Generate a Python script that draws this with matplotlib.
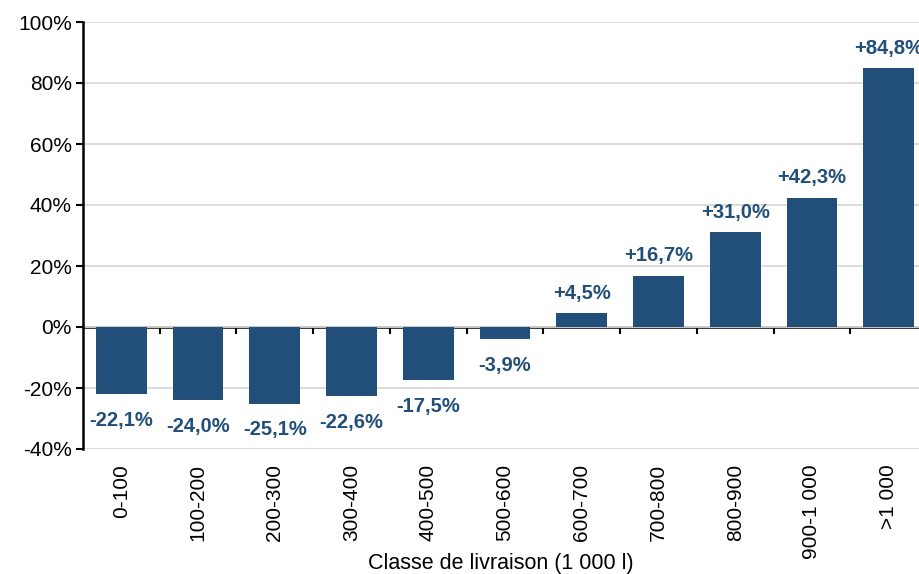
import matplotlib
matplotlib.use("Agg")
import matplotlib.pyplot as plt
import numpy as np
from matplotlib.ticker import FuncFormatter

plt.rcParams['font.family'] = ['Liberation Sans', 'DejaVu Sans']

# data
classes = ["0-100", "100-200", "200-300", "300-400", "400-500", "500-600",
           "600-700", "700-800", "800-900", "900-1 000", ">1 000"]
variation = [-22.1, -24.0, -25.1, -22.6, -17.5, -3.9, 4.5, 16.7, 31.0, 42.3, 84.8]

bar_color = "#214F79"

fig = plt.figure(figsize=(9.19, 5.74), dpi=100)
# plot area runs a little past the right edge of the image, as in the source
ax = fig.add_axes([83 / 919, 1 - 449 / 574, (927 - 83) / 919, (449 - 22) / 574])

x = np.arange(len(classes))
ax.bar(x, variation, width=0.66, color=bar_color, zorder=3)

for xi, v in zip(x, variation):
    txt = ("+" if v > 0 else "") + f"{v:.1f}".replace(".", ",") + "%"
    off = 14.5 if v > 0 else -19
    ax.annotate(txt, (xi, v), xytext=(0, off), textcoords="offset points",
                ha="center", va="center", fontsize=14.5, fontweight="bold",
                color=bar_color, annotation_clip=False)

ax.set_xlim(-0.5, len(classes) - 0.5)
ax.set_ylim(-40, 100)
ax.set_yticks(np.arange(-40, 101, 20))
ax.yaxis.set_major_formatter(FuncFormatter(lambda v, p: f"{v:.0f}%"))
ax.grid(axis="y", color="#D9D9D9", lw=1.3, zorder=0)
ax.tick_params(axis="y", labelsize=15, length=5, width=1.5, direction="out", pad=3)

ax.set_xticks(x)
ax.set_xticklabels(classes, rotation=90, fontsize=15)
ax.tick_params(axis="x", length=0, pad=11)
ax.set_xlabel("Classe de livraison (1 000 l)", fontsize=15.5)
ax.xaxis.set_label_coords(0.495, -0.243)

for s in ["top", "right", "bottom"]:
    ax.spines[s].set_visible(False)
ax.spines["left"].set_linewidth(1.8)

# zero line with category separators
zero = ax.secondary_xaxis(40 / 140)
zero.set_xticks(np.arange(0.5, len(classes) - 1, 1.0))
zero.set_xticklabels([])
zero.tick_params(length=5, width=1.5, direction="out")
zero.spines["bottom"].set_linewidth(1.8)

fig.savefig("out.png", dpi=100)
